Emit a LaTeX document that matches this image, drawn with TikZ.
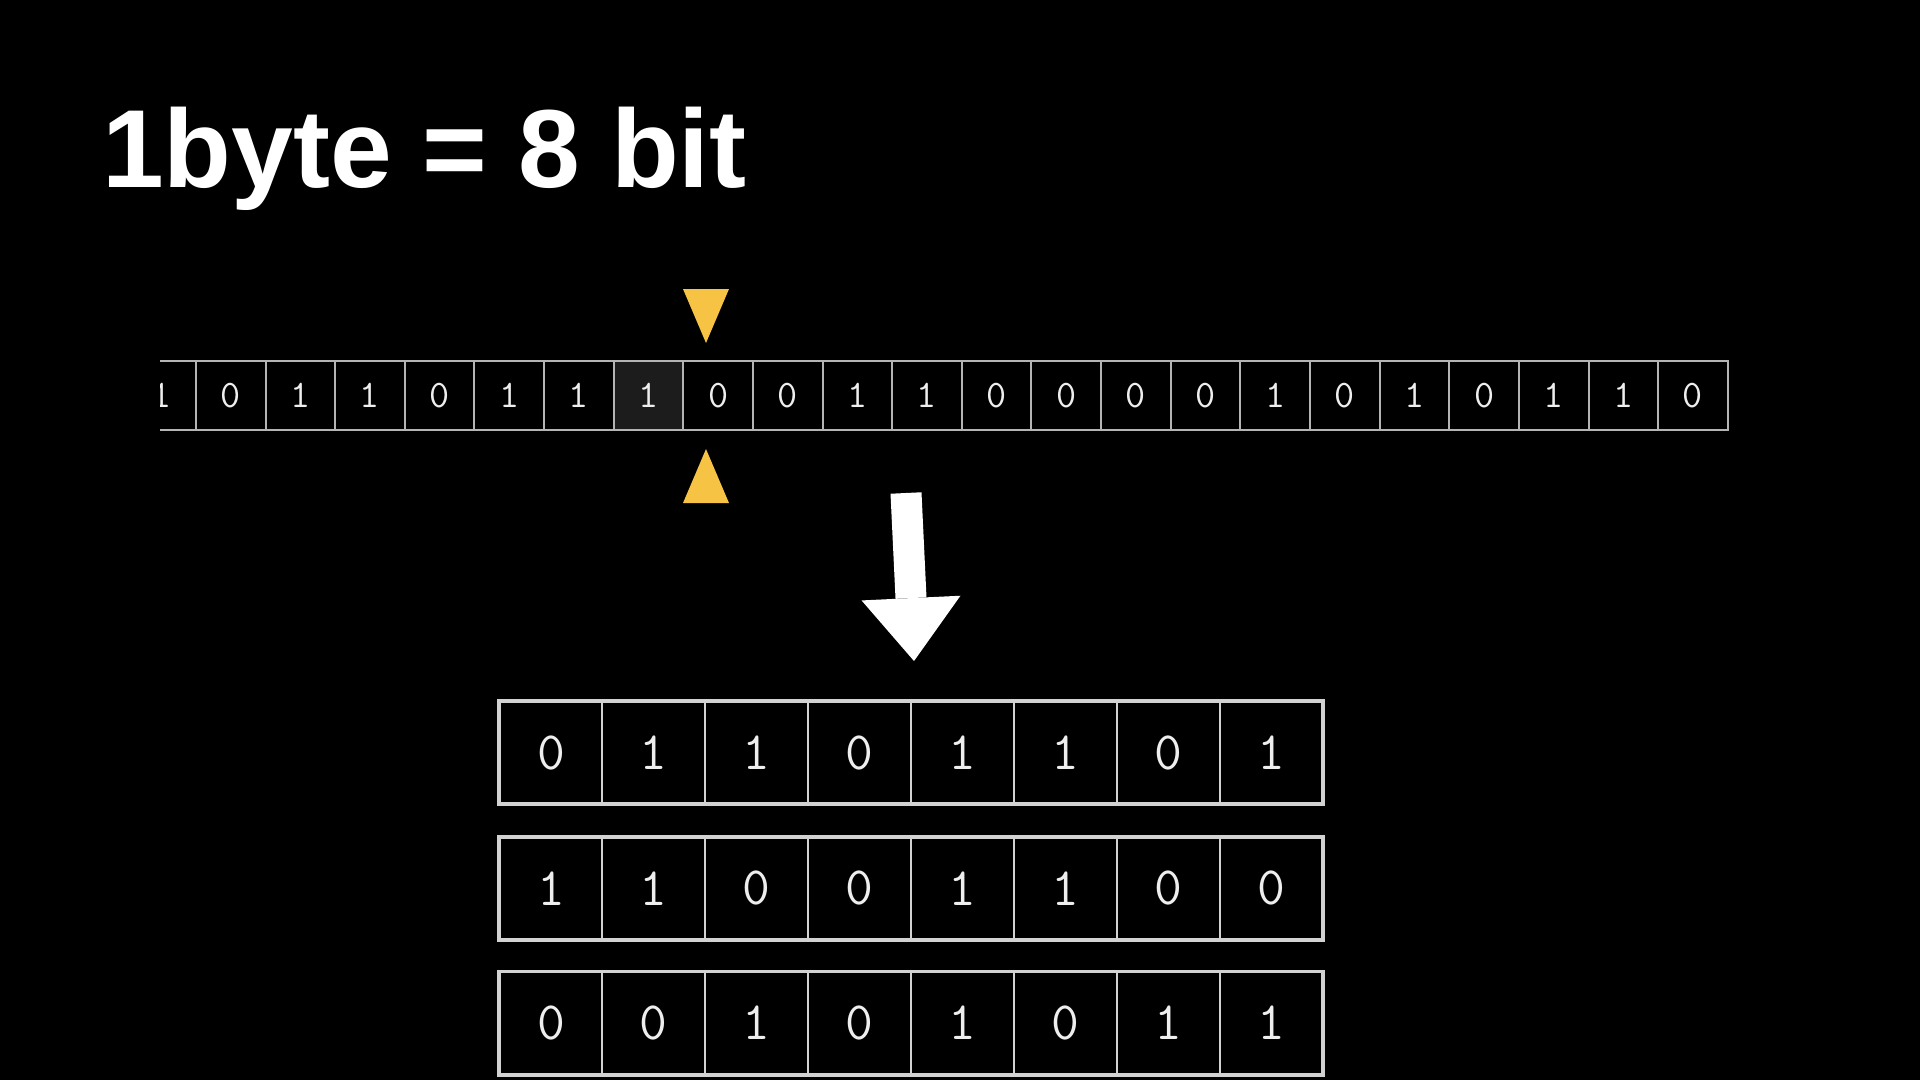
\documentclass[tikz,border=0pt]{standalone}
\usepackage{fontspec}
\setmainfont{Liberation Sans}
\usetikzlibrary{fit, arrows.meta}
\definecolor{cellline}{HTML}{B4B4B4}
\definecolor{byteline}{HTML}{D2D2D2}
\definecolor{digit}{HTML}{EEEEEE}
\definecolor{marker}{HTML}{F6C344}
\definecolor{picked}{HTML}{1C1C1C}

\begin{document}
\begin{tikzpicture}[
    x=1pt, y=-1pt,
    bitcell/.style={
        draw=cellline,
        line width=2pt,
        minimum width=69.63pt,
        minimum height=68.6pt,
        inner sep=0pt,
        text=digit,
        font=\ttfamily\fontsize{39}{39}\selectfont
    },
    bytecell/.style={
        draw=byteline,
        line width=2pt,
        minimum width=102.85pt,
        minimum height=101.6pt,
        inner sep=0pt,
        text=digit,
        font=\ttfamily\fontsize{54}{54}\selectfont
    },
    bytebox/.style={draw=byteline, line width=3.5pt, inner sep=0pt},
    pointer/.style={fill=marker},
    bigarrow/.style={
        draw=white,
        line width=31pt,
        -{Triangle[width=99pt, length=63pt, line width=0pt]}
    }
]

% Slide
\fill[black] (0,0) rectangle (1920,1080);
\useasboundingbox (0,0) rectangle (1920,1080);

% Title
\node[anchor=base west, inner sep=0pt, text=white, font=\bfseries\fontsize{111}{111}\selectfont] (title) at (102,187) {1byte = 8 bit};

% Bit stream
\begin{scope}
    \clip (160,340) rectangle (1800,450);
    \foreach \v/\f [count=\i from 0] in {1/none, 0/none, 1/none, 1/none, 0/none, 1/none, 1/none, 1/picked,
        0/none, 0/none, 1/none, 1/none, 0/none, 0/none, 0/none, 0/none, 1/none, 0/none, 1/none, 0/none, 1/none, 1/none, 0/none}
        \node[bitcell, fill=\f] (S\i) at ({161.1+69.63*\i},395.5) {\v};
\end{scope}

% Markers
\fill[pointer] (683,289) -- (729,289) -- (706,343) -- cycle;
\fill[pointer] (706,449) -- (729,503) -- (683,503) -- cycle;

% Arrow
\coordinate (arrowtop) at (906,493);
\coordinate (arrowtip) at (914,661);
\draw[bigarrow] (arrowtop) -- (arrowtip);

% Bytes
\foreach \v [count=\i] in {0,1,1,0,1,1,0,1}
    \node[bytecell] (A\i) at ({499.6+102.85*(\i-0.5)},752.5) {\v};
\foreach \v [count=\i] in {1,1,0,0,1,1,0,0}
    \node[bytecell] (B\i) at ({499.6+102.85*(\i-0.5)},888.4) {\v};
\foreach \v [count=\i] in {0,0,1,0,1,0,1,1}
    \node[bytecell] (C\i) at ({499.6+102.85*(\i-0.5)},1023.1) {\v};

\node[bytebox, fit=(A1)(A8)] (byteA) {};
\node[bytebox, fit=(B1)(B8)] (byteB) {};
\node[bytebox, fit=(C1)(C8)] (byteC) {};

\end{tikzpicture}
\end{document}
